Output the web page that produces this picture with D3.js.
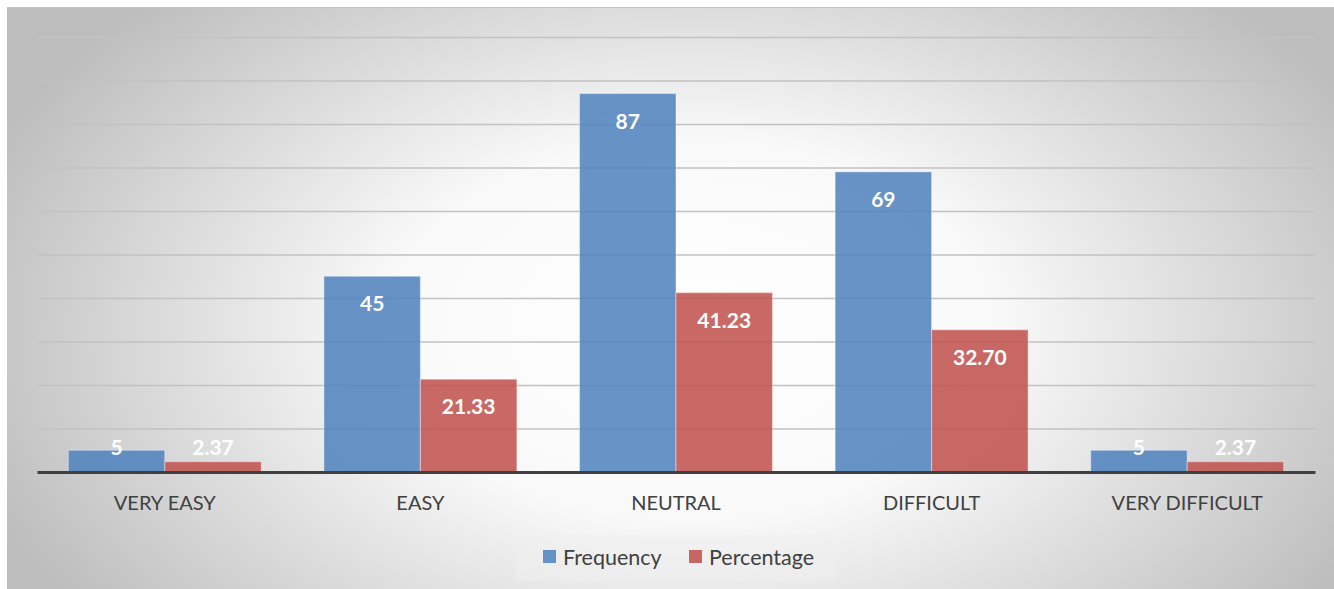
<!DOCTYPE html>
<html>
<head>
<meta charset="utf-8">
<script src="https://cdn.jsdelivr.net/npm/d3@7"></script>
<style>
  body { margin: 0; background: #fff; }
  text { font-family: Lato, "Open Sans", sans-serif; }
</style>
</head>
<body>
<svg width="1334" height="589"></svg>
<script>
// data
var categories = ['VERY EASY', 'EASY', 'NEUTRAL', 'DIFFICULT', 'VERY DIFFICULT'];
var series = ['Frequency', 'Percentage'];
var frequency = [5, 45, 87, 69, 5];
var percentage = [2.37, 21.33, 41.23, 32.70, 2.37];
var labelsFreq = ['5', '45', '87', '69', '5'];
var labelsPct = ['2.37', '21.33', '41.23', '32.70', '2.37'];
var yTicks = [10, 20, 30, 40, 50, 60, 70, 80, 90, 100];

var colors = { Frequency: 'rgba(79,129,189,0.86)', Percentage: 'rgba(192,80,77,0.86)' };

var svg = d3.select('svg'),
    margin = { top: 37, right: 19, bottom: 117, left: 37 },
    width = +svg.attr('width') - margin.left - margin.right,
    height = +svg.attr('height') - margin.top - margin.bottom;

// background with radial gradient
var defs = svg.append('defs');
var grad = defs.append('radialGradient')
    .attr('id', 'bg')
    .attr('gradientUnits', 'userSpaceOnUse')
    .attr('cx', 690).attr('cy', 330).attr('r', 760)
    .attr('gradientTransform', 'translate(690,330) scale(1,0.62) translate(-690,-330)');
grad.append('stop').attr('offset', '0').attr('stop-color', '#ffffff');
grad.append('stop').attr('offset', '0.4').attr('stop-color', '#f9f9f9');
grad.append('stop').attr('offset', '1').attr('stop-color', '#bdbdbd');

svg.append('rect')
    .attr('x', 7).attr('y', 7)
    .attr('width', 1327).attr('height', 582)
    .attr('fill', 'url(#bg)');
svg.append('line')
    .attr('x1', 7).attr('x2', 1334).attr('y1', 7.5).attr('y2', 7.5)
    .attr('stroke', '#c4c4c4').attr('stroke-width', 1);

var g = svg.append('g')
    .attr('transform', 'translate(' + margin.left + ',' + margin.top + ')');

var x0 = d3.scaleBand().domain(categories).range([0, width]);
var x1 = d3.scaleBand().domain(series).range([0, x0.bandwidth()]).paddingOuter(0.3245);
var y = d3.scaleLinear().domain([0, 100]).range([height, 0]);

// gridlines
g.append('g')
    .attr('class', 'grid')
    .call(d3.axisLeft(y).tickValues(yTicks).tickSize(-width).tickFormat(''))
    .call(function(s) {
      s.select('.domain').remove();
      s.selectAll('line').attr('stroke', '#c2c2c2').attr('stroke-width', 1.5);
    });

var rows = categories.map(function(c, i) {
  return { cat: c, vals: [
    { s: 'Frequency', v: frequency[i], label: labelsFreq[i] },
    { s: 'Percentage', v: percentage[i], label: labelsPct[i] }
  ] };
});

var groups = g.selectAll('.grp')
  .data(rows)
  .enter().append('g')
    .attr('class', 'grp')
    .attr('transform', function(d) { return 'translate(' + x0(d.cat) + ',0)'; });

groups.selectAll('rect')
  .data(function(d) { return d.vals; })
  .enter().append('rect')
    .attr('x', function(d) { return x1(d.s); })
    .attr('y', function(d) { return y(d.v); })
    .attr('width', x1.bandwidth())
    .attr('height', function(d) { return height - y(d.v); })
    .attr('fill', function(d) { return colors[d.s]; })
    .attr('stroke', 'rgba(255,255,255,0.35)')
    .attr('stroke-width', 1.2);

// data labels, inside end, pushed above when bar too short
groups.selectAll('.lbl')
  .data(function(d) { return d.vals; })
  .enter().append('text')
    .attr('class', 'lbl')
    .attr('x', function(d) { return x1(d.s) + x1.bandwidth() / 2; })
    .attr('y', function(d) { return Math.min(y(d.v) + 35, height - 17); })
    .attr('text-anchor', 'middle')
    .attr('fill', '#fff')
    .attr('font-weight', 'bold')
    .attr('font-size', '21px')
    .text(function(d) { return d.label; });

// x axis
var xAxis = g.append('g')
    .attr('transform', 'translate(0,' + height + ')')
    .call(d3.axisBottom(x0).tickSize(0).tickPadding(24));
xAxis.select('.domain').attr('stroke', '#404040').attr('stroke-width', 3);
xAxis.selectAll('text')
    .attr('fill', '#404040')
    .attr('font-size', '20px')
    .style('font-family', 'Lato, "Open Sans", sans-serif');

// legend
var legend = svg.append('g');
legend.append('rect')
    .attr('x', 517).attr('y', 535).attr('width', 319).attr('height', 46)
    .attr('fill', 'rgba(238,238,238,0.55)');
var legX = [543, 689];
series.forEach(function(s, i) {
  legend.append('rect')
      .attr('x', legX[i]).attr('y', 550).attr('width', 13).attr('height', 13)
      .attr('fill', colors[s]);
  legend.append('text')
      .attr('x', legX[i] + 20).attr('y', 565)
      .attr('fill', '#404040')
      .attr('font-size', '21.5px')
      .text(s);
});
</script>
</body>
</html>
